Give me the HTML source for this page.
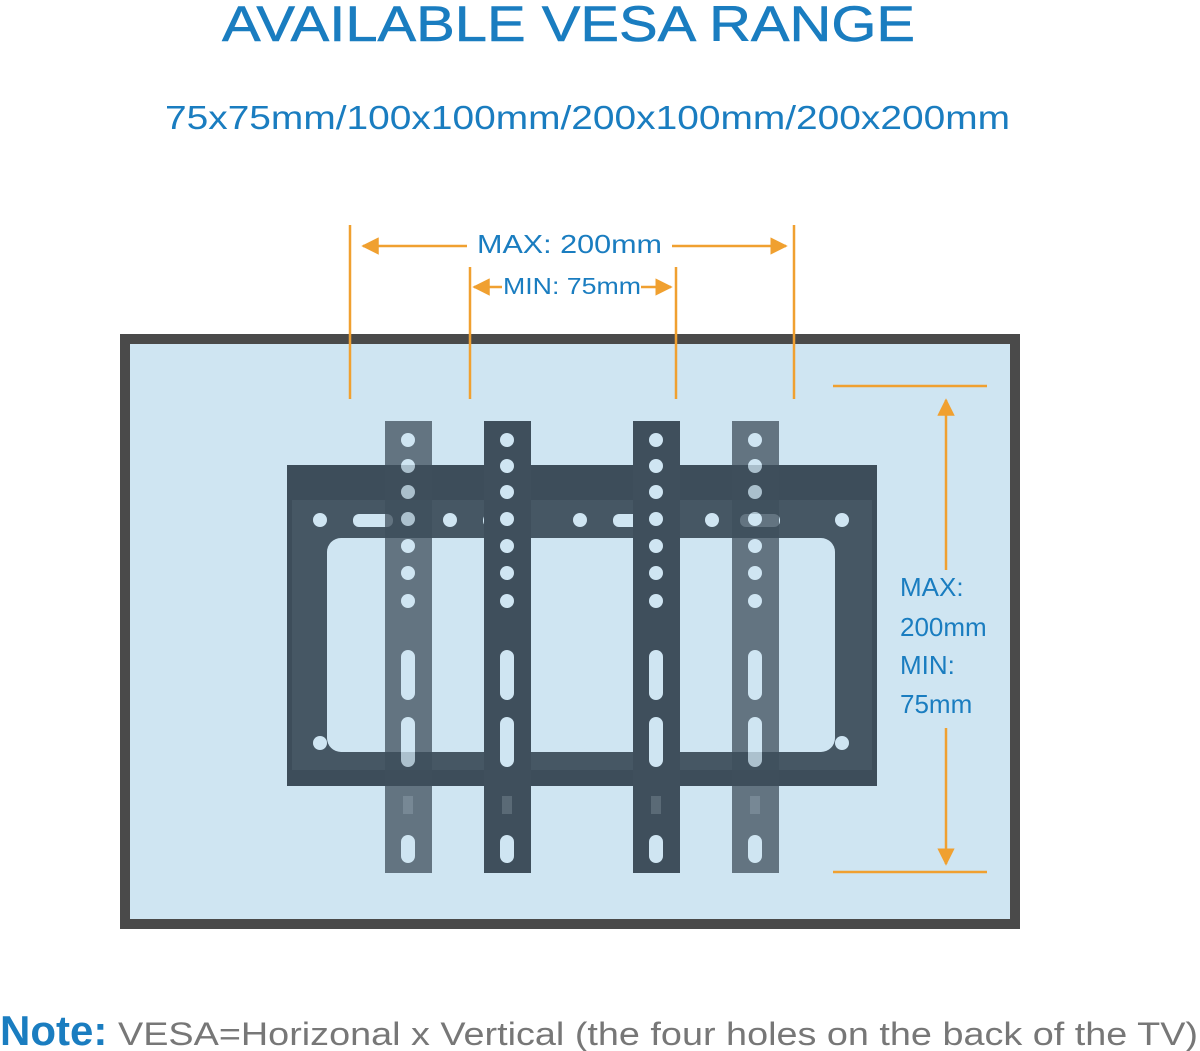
<!DOCTYPE html>
<html><head><meta charset="utf-8"><style>
html,body{margin:0;padding:0;background:#fff;}
svg{display:block;}
</style></head><body>
<svg width="1200" height="1051" viewBox="0 0 1200 1051" xmlns="http://www.w3.org/2000/svg">
<defs>
<marker id="ah" viewBox="0 0 10 10" refX="9" refY="5" markerWidth="7" markerHeight="7" orient="auto-start-reverse"><path d="M0,0 L10,5 L0,10 Z" fill="#f0a030"/></marker>
<g id="strip">
<rect x="-23" y="0" width="47" height="452" fill="#3f4f5c"/>
<g fill="#cfe5f2">
<circle cx="0" cy="19" r="7"/><circle cx="0" cy="45" r="7"/><circle cx="0" cy="71" r="7"/><circle cx="0" cy="98" r="7"/><circle cx="0" cy="125" r="7"/><circle cx="0" cy="152" r="7"/><circle cx="0" cy="180" r="7"/>
<rect x="-7" y="229" width="14" height="50" rx="7"/>
<rect x="-7" y="296" width="14" height="50" rx="7"/>
<rect x="-5" y="375" width="10" height="18" fill="#5a6a76"/>
<rect x="-7" y="414" width="14" height="28" rx="7"/>
</g>
</g>
</defs>
<text x="222" y="41" textLength="693" lengthAdjust="spacingAndGlyphs" font-family="Liberation Sans, sans-serif" font-size="50" fill="#1a7dc0" stroke="#1a7dc0" stroke-width="0.6">AVAILABLE VESA RANGE</text>
<text x="165" y="129" textLength="845" lengthAdjust="spacingAndGlyphs" font-family="Liberation Sans, sans-serif" font-size="33" fill="#1a7dc0">75x75mm/100x100mm/200x100mm/200x200mm</text>
<rect x="125" y="339" width="890" height="585" fill="#cfe5f2" stroke="#4a4a4a" stroke-width="10"/>
<!-- plate -->
<rect x="287" y="465" width="590" height="321" fill="#3d4d5a"/>
<rect x="292" y="500" width="580" height="270" fill="#465764"/>
<rect x="327" y="538" width="508" height="214" rx="14" fill="#cfe5f2"/>
<g fill="#cfe5f2">
<circle cx="320" cy="520" r="7"/><rect x="353" y="514" width="40" height="13" rx="6"/><circle cx="450" cy="520" r="7"/><rect x="483" y="514" width="40" height="13" rx="6"/><circle cx="580" cy="520" r="7"/><rect x="613" y="514" width="40" height="13" rx="6"/><circle cx="712" cy="520" r="7"/><rect x="740" y="514" width="40" height="13" rx="6"/><circle cx="842" cy="520" r="7"/>
<circle cx="320" cy="743" r="7"/><rect x="353" y="737" width="40" height="13" rx="6"/><circle cx="450" cy="743" r="7"/><rect x="483" y="737" width="40" height="13" rx="6"/><circle cx="580" cy="743" r="7"/><rect x="613" y="737" width="40" height="13" rx="6"/><circle cx="712" cy="743" r="7"/><rect x="740" y="737" width="40" height="13" rx="6"/><circle cx="842" cy="743" r="7"/>
</g>
<use href="#strip" x="408" y="421" opacity="0.75"/>
<use href="#strip" x="507" y="421"/>
<use href="#strip" x="656" y="421"/>
<use href="#strip" x="755" y="421" opacity="0.75"/>
<!-- dimension lines -->
<g stroke="#f0a030" stroke-width="2.5" fill="none">
<line x1="350" y1="225" x2="350" y2="399"/><line x1="794" y1="225" x2="794" y2="399"/>
<line x1="470" y1="267" x2="470" y2="399"/><line x1="676" y1="267" x2="676" y2="399"/>
<line x1="363" y1="246" x2="467" y2="246" marker-start="url(#ah)"/>
<line x1="672" y1="246" x2="786" y2="246" marker-end="url(#ah)"/>
<line x1="474" y1="287" x2="502" y2="287" marker-start="url(#ah)"/>
<line x1="641" y1="287" x2="671" y2="287" marker-end="url(#ah)"/>
<line x1="833" y1="386" x2="987" y2="386"/><line x1="833" y1="872" x2="987" y2="872"/>
<line x1="946" y1="570" x2="946" y2="400" marker-end="url(#ah)"/>
<line x1="946" y1="728" x2="946" y2="864" marker-end="url(#ah)"/>
</g>
<g font-family="Liberation Sans, sans-serif" fill="#1a7dc0">
<text x="477" y="253" textLength="185" lengthAdjust="spacingAndGlyphs" font-size="26">MAX: 200mm</text>
<text x="503" y="294" textLength="138" lengthAdjust="spacingAndGlyphs" font-size="23">MIN: 75mm</text>
<text x="900" y="596" font-size="26">MAX:</text>
<text x="900" y="636" font-size="26">200mm</text>
<text x="900" y="674" font-size="26">MIN:</text>
<text x="900" y="713" font-size="26">75mm</text>
</g>
<text x="0" y="1045" font-family="Liberation Sans, sans-serif"><tspan font-size="42" font-weight="bold" fill="#1a7dc0">Note:</tspan></text>
<text x="118" y="1045" textLength="1080" lengthAdjust="spacingAndGlyphs" font-family="Liberation Sans, sans-serif" font-size="32" fill="#777">VESA=Horizonal x Vertical (the four holes on the back of the TV)</text>
</svg>
</body></html>
